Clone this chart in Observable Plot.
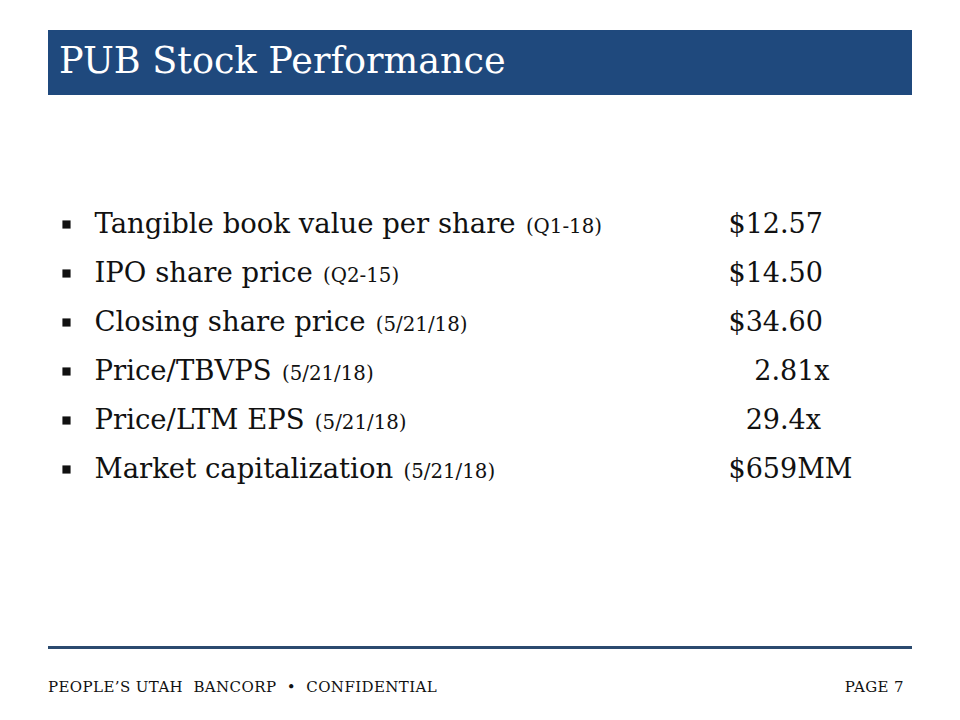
<!DOCTYPE html>
<html><head><meta charset="utf-8">
<script src="https://cdn.jsdelivr.net/npm/d3@7"></script>
<script src="https://cdn.jsdelivr.net/npm/@observablehq/plot@0.6"></script>
<style>
body{margin:0;background:#fff;}
#slide{position:relative;width:960px;height:720px;overflow:hidden;font-family:"DejaVu Serif",serif;color:#111;}
#banner{position:absolute;left:48px;top:30px;width:864px;height:65px;background:#1f497d;}
#banner h1{margin:0;position:absolute;left:11px;top:9px;color:#fff;font-weight:normal;font-size:36.6px;line-height:44px;white-space:nowrap;}
#chart{position:absolute;left:0;top:197px;}
#chart text{white-space:pre;}
#rule{position:absolute;left:48px;top:646px;width:864px;height:3px;background:#2b4a6f;}
.foot{position:absolute;top:677px;font-size:15px;line-height:20px;letter-spacing:0.4px;white-space:pre;}
#fl{left:48px;}
#fr{right:56px;}
</style></head>
<body>
<div id="slide">
  <div id="banner"><h1>PUB Stock Performance</h1></div>
  <div id="chart"></div>
  <div id="rule"></div>
  <div class="foot" id="fl">PEOPLE’S UTAH  BANCORP  •  CONFIDENTIAL</div>
  <div class="foot" id="fr">PAGE 7</div>
</div>
<script>
const labels = ["Tangible book value per share", "IPO share price", "Closing share price", "Price/TBVPS", "Price/LTM EPS", "Market capitalization"];
const periods = ["(Q1-18)", "(Q2-15)", "(5/21/18)", "(5/21/18)", "(5/21/18)", "(5/21/18)"];
const values = ["$12.57", "$14.50", "$34.60", "   2.81x", "  29.4x", "$659MM"];

const rows = labels.map((label, i) => ({label, period: periods[i], value: values[i]}));

const chart = Plot.plot({
  width: 960,
  height: 300,
  margin: 0,
  style: {fontFamily: "DejaVu Serif, serif", color: "#111", background: "transparent"},
  y: {type: "band", domain: labels, axis: null},
  marks: [
    Plot.dot(rows, {y: "label", frameAnchor: "left", dx: 66, symbol: "square", r: 4.6, fill: "#111", stroke: null}),
    Plot.text(rows, {y: "label", text: "label", frameAnchor: "left", dx: 94, textAnchor: "start", fontSize: 27.5, fill: "#111"}),
    Plot.text(rows, {y: "label", text: "value", frameAnchor: "left", dx: 728, textAnchor: "start", fontSize: 27, fill: "#111"})
  ]
});
document.getElementById("chart").appendChild(chart);

const textGroups = chart.querySelectorAll('g[aria-label="text"]');
d3.select(textGroups[0]).selectAll("text").each(function(d, i) {
  const t = d3.select(this);
  t.append("tspan").attr("font-size", 19.8).attr("dx", 4).text(" " + periods[i]);
});
</script>
</body></html>
